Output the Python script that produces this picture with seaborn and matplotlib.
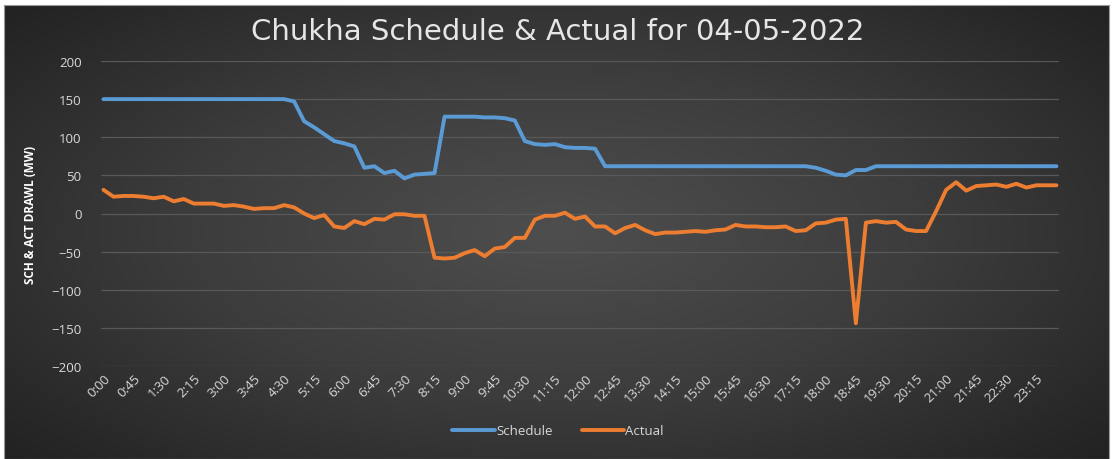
import numpy as np
import pandas as pd
import matplotlib
matplotlib.use("Agg")
import matplotlib.pyplot as plt
import seaborn as sns

# 15-minute blocks for the day
times = [f"{h}:{m:02d}" for h in range(24) for m in (0, 15, 30, 45)]

schedule = [150, 150, 150, 150, 150, 150, 150, 150, 150, 150,
            150, 150, 150, 150, 150, 150, 150, 150, 150, 147,
            121, 113, 104, 95, 92, 88, 60, 62, 53, 56,
            46, 51, 52, 53, 127, 127, 127, 127, 126, 126,
            125, 122, 95, 91, 90, 91, 87, 86, 86, 85,
            62, 62, 62, 62, 62, 62, 62, 62, 62, 62,
            62, 62, 62, 62, 62, 62, 62, 62, 62, 62,
            62, 60, 56, 51, 50, 57, 57, 62, 62, 62,
            62, 62, 62, 62, 62, 62, 62, 62, 62, 62,
            62, 62, 62, 62, 62, 62]

actual = [31, 22, 23, 23, 22, 20, 22, 16, 19, 13,
          13, 13, 10, 11, 9, 6, 7, 7, 11, 8,
          0, -6, -2, -17, -19, -10, -14, -7, -8, -1,
          -1, -3, -3, -58, -59, -58, -52, -48, -56, -46,
          -44, -32, -32, -8, -3, -3, 1, -7, -4, -17,
          -17, -26, -19, -15, -22, -27, -25, -25, -24, -23,
          -24, -22, -21, -15, -17, -17, -18, -18, -17, -23,
          -22, -13, -12, -8, -7, -144, -12, -10, -12, -11,
          -21, -23, -23, 3, 31, 41, 30, 36, 37, 38,
          35, 39, 34, 37, 37, 37]

df = pd.DataFrame({"idx": range(len(times)), "Schedule": schedule, "Actual": actual})
long_df = df.melt(id_vars="idx", var_name="series", value_name="MW")

sns.set_theme(style="dark")
plt.rcParams["font.family"] = ["Open Sans", "DejaVu Sans"]

fig = plt.figure(figsize=(11.16, 4.6), dpi=100)
fig.patch.set_facecolor("white")

# dark radial-gradient chart area background
bg = fig.add_axes([4 / 1116, 0, 1105 / 1116, 454 / 460])
yy, xx = np.mgrid[-1:1:300j, -1:1:600j]
r = np.sqrt((xx / 1.0) ** 2 + (yy / 1.1) ** 2)
bg.imshow(r, cmap=sns.blend_palette(["#4e4e4e", "#3c3c3c", "#222222"], as_cmap=True),
          vmin=0, vmax=1.35, aspect="auto", extent=(0, 1, 0, 1))
bg.set_xticks([])
bg.set_yticks([])
for s in bg.spines.values():
    s.set_color("#9a9a9a")
    s.set_linewidth(0.8)

ax = fig.add_axes([101 / 1116, 1 - 367 / 460, 958 / 1116, 305 / 460])
ax.set_facecolor("none")

sns.lineplot(data=long_df, x="idx", y="MW", hue="series",
             palette={"Schedule": "#5B9BD5", "Actual": "#ED7D31"},
             linewidth=2.8, ax=ax, legend=False)

ax.set_ylim(-200, 200)
ax.set_yticks(range(-200, 201, 50))
ax.set_xlim(-0.25, 95.25)
tick_pos = list(range(0, len(times), 3))
ax.set_xticks(tick_pos)
ax.set_xticklabels([times[i] for i in tick_pos], rotation=45, ha="right",
                   rotation_mode="anchor", fontsize=9.5, color="#d9d9d9")
ax.tick_params(axis="y", colors="#d9d9d9", labelsize=9.5, length=0, pad=14)
ax.tick_params(axis="x", length=0, pad=4)
ax.grid(axis="y", color="#595959", linewidth=0.9)
ax.grid(axis="x", visible=False)
for s in ax.spines.values():
    s.set_visible(False)

ax.set_xlabel("")
ax.set_ylabel("SCH & ACT DRAWL (MW)", color="white", fontsize=8.5,
              fontweight="bold", labelpad=10)

fig.text(0.5, 1 - 32 / 460, "Chukha Schedule & Actual for 04-05-2022",
         ha="center", va="center", fontsize=21, color="#e6e6e6",
         family=["DejaVu Sans"])

handles = [plt.Line2D([], [], color="#5B9BD5", lw=2.8),
           plt.Line2D([], [], color="#ED7D31", lw=2.8)]
fig.legend(handles, ["Schedule", "Actual"], loc="center",
           bbox_to_anchor=(0.5, 1 - 432 / 460), ncol=2, frameon=False,
           fontsize=9.5, labelcolor="#d9d9d9", handlelength=3.2,
           handletextpad=0.1, columnspacing=2.2)

fig.savefig("out.png", dpi=100, facecolor=fig.get_facecolor())
